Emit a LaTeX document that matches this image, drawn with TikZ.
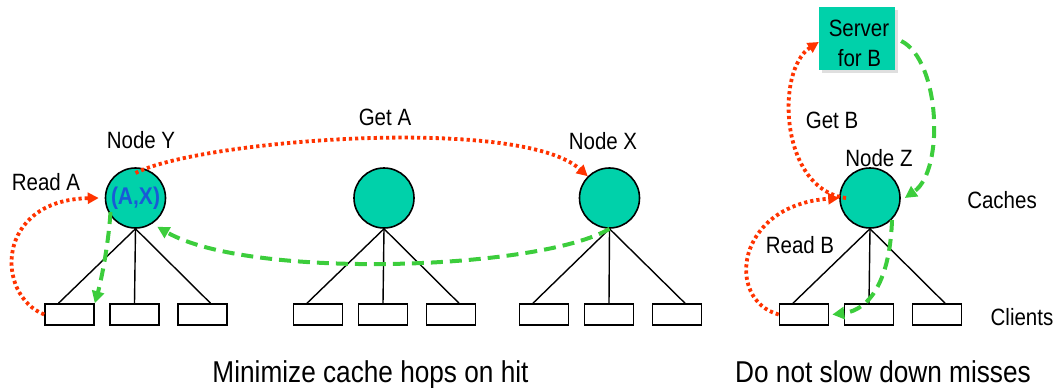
\documentclass[tikz,border=0pt]{standalone}
\usepackage{fontspec}
\usepackage{graphicx}
\setmainfont{Liberation Sans}
\usetikzlibrary{arrows.meta,shadows}
\definecolor{cachefill}{RGB}{0,209,170}
\definecolor{reqred}{RGB}{255,51,0}
\definecolor{respgreen}{RGB}{60,205,60}
\definecolor{keyblue}{RGB}{25,90,215}
\newcommand{\talltext}[1]{\scalebox{1}[1.15]{#1}}
\begin{document}
\begin{tikzpicture}[x=1pt,y=-1pt,
  cache/.style={circle,draw=black,line width=1.6pt,fill=cachefill,minimum size=60pt,inner sep=0pt},
  client/.style={rectangle,draw=black,line width=1.6pt,fill=white,minimum width=49pt,minimum height=21pt,inner sep=0pt},
  server/.style={rectangle,fill=cachefill,minimum width=76pt,minimum height=63pt,inner sep=0pt,
    drop shadow={shadow xshift=2.5pt,shadow yshift=-2.5pt,opacity=0.25,fill=black!50}},
  lbl/.style={font=\fontsize{20.5}{24}\selectfont,anchor=base,inner sep=0pt},
  bigtext/.style={font=\fontsize{26.2}{30}\selectfont,anchor=base,inner sep=0pt},
  tree/.style={draw=black,line width=1.4pt},
  request/.style={draw=reqred,line width=3.8pt,dash pattern=on 3.2pt off 3pt,
    -{Triangle[length=11pt,width=11pt]}},
  reply/.style={draw=respgreen,line width=4pt,dash pattern=on 12pt off 7pt,
    -{Triangle[length=12pt,width=12pt]}}]
\useasboundingbox (0,0) rectangle (1057,388);

% cache nodes
\node[cache] (Y) at (135.5,198) {\talltext{\fontsize{21}{24}\selectfont\bfseries\color{keyblue}(A,X)}};
\node[cache] (M) at (384,198) {};
\node[cache] (X) at (609.5,198) {};
\node[cache] (Z) at (870,198) {};

% server
\node[server] (S) at (857,38.5) {};
\node[lbl] (sv1) at (859,36) {\talltext{Server}};
\node[lbl] (sv2) at (859.5,66) {\talltext{for B}};

% clients
\node[client] (Y1) at (69.5,314.5) {};
\node[client] (Y2) at (134.5,314.5) {};
\node[client] (Y3) at (202.5,314.5) {};
\node[client] (M1) at (318,314.5) {};
\node[client] (M2) at (383,314.5) {};
\node[client] (M3) at (451,314.5) {};
\node[client] (X1) at (544,314.5) {};
\node[client] (X2) at (609,314.5) {};
\node[client] (X3) at (677,314.5) {};
\node[client] (Z1) at (804,314.5) {};
\node[client] (Z2) at (869,314.5) {};
\node[client] (Z3) at (937,314.5) {};

% tree lines
\foreach \c in {Y,M,X,Z}{
  \draw[tree] (\c.south) -- ([xshift=-11pt]\c1.north);
  \draw[tree] (\c.south) -- (\c2.north);
  \draw[tree] (\c.south) -- ([xshift=8pt]\c3.north);
}

% labels
\node[lbl] (lReadA) at (46,190) {\talltext{Read A}};
\node[lbl] (lNodeY) at (141,148) {\talltext{Node Y}};
\node[lbl] (lGetA) at (385,125) {\talltext{Get A}};
\node[lbl] (lNodeX) at (603,149) {\talltext{Node X}};
\node[lbl] (lGetB) at (832,128) {\talltext{Get B}};
\node[lbl] (lNodeZ) at (879,166) {\talltext{Node Z}};
\node[lbl] (lCaches) at (1002,208) {\talltext{Caches}};
\node[lbl] (lReadB) at (800,253) {\talltext{Read B}};
\node[lbl] (lClients) at (1022,325) {\talltext{Clients}};
\node[bigtext] (cap1) at (370.5,382) {\talltext{Minimize cache hops on hit}};
\node[bigtext] (cap2) at (883,382) {\talltext{Do not slow down misses}};

% left side flows
\draw[request] (Y1.west) .. controls (-5,295) and (-5,200) .. ([xshift=-6pt]Y.west);
\draw[request] ([yshift=25pt]Y.center) .. controls (200,140) and (520,115) .. (X.north west);
\draw[reply] (X.south) .. controls (540,270) and (250,280) .. ([yshift=-7pt]Y.south east);
\draw[reply] ([xshift=-25pt,yshift=-14pt]Y.center) .. controls (108,250) and (100,285) .. (Y1.north east);

% right side flows
\draw[request] ([xshift=-24pt]Z.center) .. controls (780,190) and (775,70) .. ([yshift=-3.5pt]S.west);
\draw[request] (Z1.west) .. controls (725,300) and (735,205) .. (Z.west);
\draw[reply] ([xshift=6pt,yshift=-2.5pt]S.east) .. controls (940,60) and (945,170) .. ([xshift=4pt]Z.east);
\draw[reply] ([xshift=22pt,yshift=-22pt]Z.center) .. controls (890,280) and (870,310) .. ([xshift=3pt]Z1.east);
\end{tikzpicture}
\end{document}
